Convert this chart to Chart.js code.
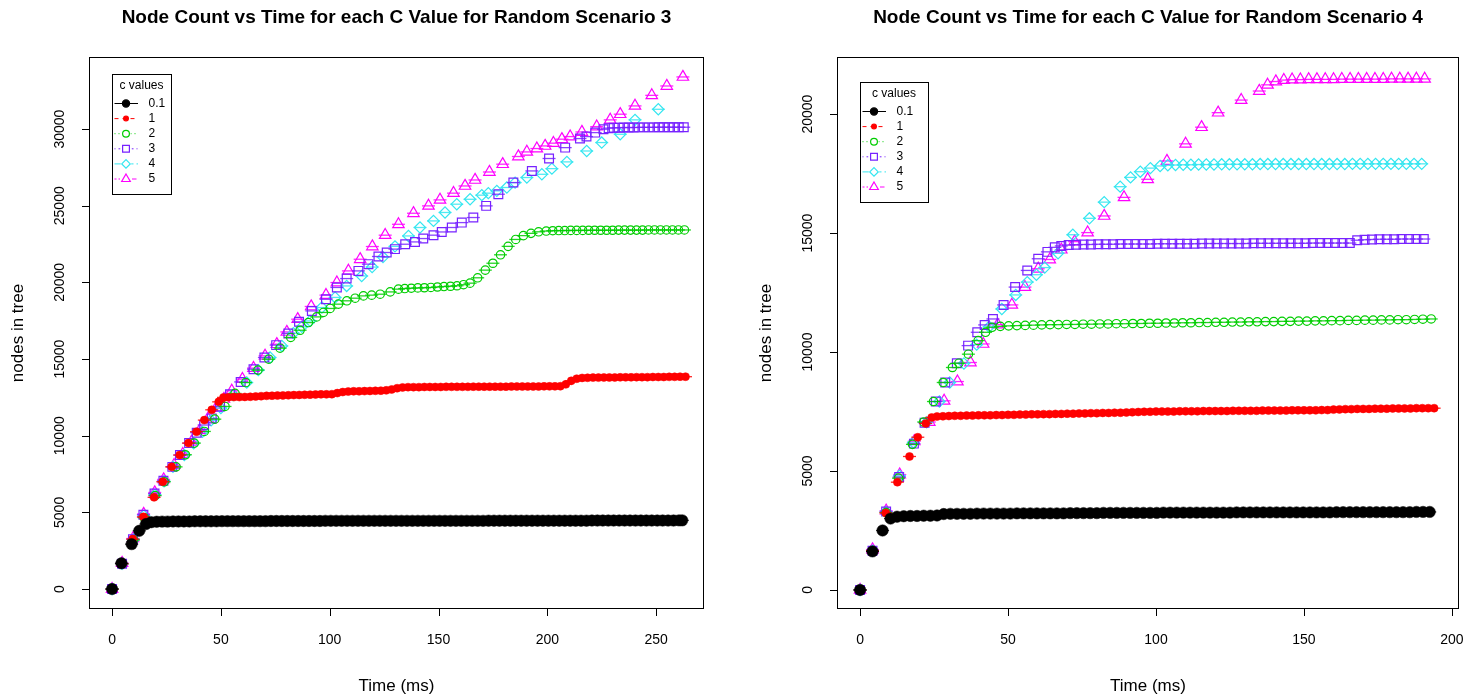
<!DOCTYPE html>
<html>
<head>
<meta charset="utf-8">
<script src="https://cdn.jsdelivr.net/npm/chart.js@4.4.1/dist/chart.umd.min.js"></script>
<style>
  body { margin: 0; background: #fff; }
  canvas { position: absolute; top: 0; }
</style>
</head>
<body>
<canvas id="scenario3" width="741" height="698" style="left:0"></canvas>
<canvas id="scenario4" width="740" height="698" style="left:741px"></canvas>
<script>
// c values shown in the legend
const cLabels = ['0.1', '1', '2', '3', '4', '5'];

const xTicks3 = [0, 50, 100, 150, 200, 250];
const yTicks3 = [0, 5000, 10000, 15000, 20000, 25000, 30000];
const xTicks4 = [0, 50, 100, 150, 200];
const yTicks4 = [0, 5000, 10000, 15000, 20000];

// ---- Random Scenario 3: time (ms) / nodes in tree ----
const s3Time_c01 = [0, 4.3, 9, 12.5, 15.6,
  18, 20.5, 23, 25.5, 28, 30.5, 33, 35.5, 38, 40.5,
  43, 45.5, 48, 50.5, 53, 55.5, 58, 60.5, 63, 65.5,
  68, 70.5, 73, 75.5, 78, 80.5, 83, 85.5, 88, 90.5,
  93, 95.5, 98, 100.5, 103, 105.5, 108, 110.5, 113, 115.5,
  118, 120.5, 123, 125.5, 128, 130.5, 133, 135.5, 138, 140.5,
  143, 145.5, 148, 150.5, 153, 155.5, 158, 160.5, 163, 165.5,
  168, 170.5, 173, 175.5, 178, 180.5, 183, 185.5, 188, 190.5,
  193, 195.5, 198, 200.5, 203, 205.5, 208, 210.5, 213, 215.5,
  218, 220.5, 223, 225.5, 228, 230.5, 233, 235.5, 238, 240.5,
  243, 245.5, 248, 250.5, 253, 255.5, 258, 260.5, 262];
const s3Nodes_c01 = [0, 1680, 2930, 3800, 4240,
  4360, 4390, 4400, 4400, 4410, 4410, 4410, 4410, 4420, 4420,
  4420, 4420, 4420, 4430, 4430, 4430, 4430, 4430, 4430, 4430,
  4430, 4430, 4440, 4440, 4440, 4440, 4440, 4440, 4440, 4440,
  4440, 4440, 4450, 4450, 4450, 4450, 4450, 4450, 4450, 4450,
  4450, 4450, 4450, 4450, 4450, 4450, 4450, 4450, 4450, 4450,
  4450, 4450, 4450, 4450, 4450, 4450, 4450, 4450, 4450, 4450,
  4450, 4450, 4460, 4460, 4460, 4460, 4460, 4460, 4460, 4460,
  4460, 4460, 4460, 4460, 4460, 4460, 4460, 4460, 4460, 4460,
  4460, 4470, 4470, 4470, 4470, 4470, 4470, 4470, 4470, 4470,
  4470, 4470, 4470, 4470, 4470, 4470, 4470, 4480, 4480];

const s3Time_c1 = [0, 4.6, 9.5, 14.4, 19.3, 23.3, 27.4, 31.1, 35.1, 38.8, 42.4, 45.8, 49, 51.2,
  53.5, 56, 58.5, 61, 63.5, 66, 68.5, 71, 73.5, 76,
  78.5, 81, 83.5, 86, 88.5, 91, 93.5, 96, 98.5, 101,
  103.5, 106, 108.5, 111, 113.5, 116, 118.5, 121, 123.5, 126,
  128.5, 131, 133.5, 136, 138.5, 141, 143.5, 146, 148.5, 151,
  153.5, 156, 158.5, 161, 163.5, 166, 168.5, 171, 173.5, 176,
  178.5, 181, 183.5, 186, 188.5, 191, 193.5, 196, 198.5, 201,
  203.5, 206, 208.5, 211, 213.5, 216, 218.5, 221, 223.5, 226,
  228.5, 231, 233.5, 236, 238.5, 241, 243.5, 246, 248.5, 251,
  253.5, 256, 258.5, 261, 263.5];
const s3Nodes_c1 = [0, 1650, 3260, 4710, 5980, 7000, 7970, 8740, 9520, 10260, 11020, 11690, 12210, 12500,
  12510, 12520, 12520, 12530, 12540, 12560, 12580, 12600, 12610, 12620,
  12630, 12640, 12650, 12660, 12670, 12680, 12690, 12700, 12700, 12710,
  12780, 12850, 12880, 12900, 12900, 12910, 12920, 12930, 12940, 12960,
  13020, 13100, 13150, 13170, 13170, 13170, 13180, 13180, 13180, 13180,
  13190, 13190, 13190, 13190, 13190, 13200, 13200, 13200, 13200, 13200,
  13200, 13200, 13210, 13210, 13210, 13210, 13210, 13210, 13220, 13220,
  13220, 13230, 13350, 13580, 13720, 13770, 13780, 13790, 13790, 13800,
  13800, 13800, 13810, 13810, 13810, 13820, 13820, 13820, 13830, 13830,
  13830, 13840, 13840, 13850, 13850];

const s3Time_c2 = [0, 4.6, 9.8, 14.8, 19.8, 24, 29.4, 33.7, 37.8, 42.4,
  47.2, 51.9, 56.5, 61.4, 67, 72, 77.2, 82.1, 86.4, 90.2,
  94, 97.1, 100.2, 104, 107.9, 111.7, 115.5, 119.3, 123.2, 127.8,
  131.6, 134.5, 137.5, 140.5, 143.5, 146.5, 149.5, 152.5, 155.5, 158.5,
  161.5, 164.5, 168, 171.5, 175, 178.5, 182, 185.5, 189, 192.5,
  196, 199.5, 202.5, 205.25, 208, 210.75, 213.5, 216.25, 219, 221.75,
  224.5, 227.25, 230, 232.75, 235.5, 238.25, 241, 243.75, 246.5, 249.25,
  252, 254.75, 257.5, 260.25, 263];
const s3Nodes_c2 = [0, 1650, 3200, 4650, 6100, 7000, 7970, 8760, 9520, 10280,
  11080, 11910, 12760, 13470, 14280, 14990, 15710, 16410, 16880, 17380,
  17750, 18040, 18300, 18580, 18800, 18970, 19120, 19170, 19230, 19380,
  19560, 19600, 19620, 19640, 19650, 19670, 19700, 19730, 19750, 19780,
  19850, 19950, 20300, 20800, 21250, 21800, 22350, 22800, 23050, 23200,
  23300, 23350, 23370, 23380, 23380, 23390, 23390, 23390, 23400, 23400,
  23400, 23400, 23400, 23410, 23410, 23410, 23410, 23410, 23420, 23420,
  23420, 23420, 23420, 23420, 23420];

const s3Time_c3 = [0, 4.6, 9.6, 14.4, 19.5, 23.6, 27.7, 31.2, 35.4, 38.9,
  42.3, 45.8, 49.6, 54.2, 59.1, 65, 70, 75.4, 81, 85.9,
  91.8, 98.3, 103.3, 107.8, 113.2, 117.8, 122.4, 126.2, 130, 134.7,
  139.2, 143, 147.7, 151.5, 156.1, 160.7, 166, 171.9, 177.5, 184.4,
  192.9, 200.8, 208.2, 215, 218, 222, 225.8, 228.2, 230.5, 232.8,
  235.1, 237.4, 239.7, 242, 244.3, 246.6, 248.9, 251.2, 253.5, 255.8,
  258.1, 260.4, 262.7];
const s3Nodes_c3 = [0, 1650, 3250, 4850, 6230, 7060, 7970, 8740, 9520, 10200,
  10700, 11130, 11910, 12710, 13510, 14340, 15100, 15910, 16670, 17430,
  18140, 18900, 19670, 20250, 20750, 21190, 21690, 21950, 22170, 22490,
  22640, 22860, 23080, 23290, 23580, 23900, 24230, 24990, 25750, 26510,
  27270, 28080, 28790, 29380, 29510, 29770, 29990, 30060, 30080, 30090,
  30100, 30100, 30100, 30110, 30110, 30110, 30110, 30120, 30120, 30120,
  30120, 30120, 30120];

const s3Time_c4 = [0, 4.6, 9.8, 14.6, 19.7, 23.9, 28, 33.2, 37.5, 41.5,
  45.5, 50, 55.6, 61.9, 67.2, 72.6, 78, 83.3, 87.2, 91,
  96.4, 102.5, 107.8, 114.7, 119.5, 124.5, 130, 136.2, 141.5, 147.7,
  153, 158.4, 164.5, 169.9, 172.9, 176.8, 181.4, 185.2, 190.6, 197.5,
  202.1, 209, 218.1, 225, 233.5, 240.3, 251];
const s3Nodes_c4 = [0, 1650, 3230, 4780, 6150, 7030, 7970, 8740, 9500, 10250,
  11000, 11800, 12650, 13470, 14280, 15100, 15860, 16690, 17100, 17490,
  18360, 19020, 19770, 20420, 21000, 21650, 22350, 23030, 23580, 24010,
  24560, 25100, 25420, 25690, 25820, 25970, 26190, 26510, 26840, 27050,
  27420, 27860, 28570, 29120, 29660, 30600, 31290];

const s3Time_c5 = [0, 4.6, 9.6, 14.5, 19.6, 23.7, 28.5, 32.5, 36.5, 40.3,
  44, 47.8, 51.4, 55, 59.9, 65, 70.3, 75.7, 80.3, 85.3,
  91.5, 98.3, 103.3, 108.6, 114, 119.6, 125.5, 131.6, 138.5, 145.4,
  150.7, 156.9, 162.2, 166.8, 173.4, 179.5, 186.7, 190.6, 195.2, 199,
  202.8, 206.7, 210.5, 215.9, 222.7, 228.9, 233.5, 240.3, 248, 254.9,
  262.3];
const s3Nodes_c5 = [0, 1700, 3300, 4900, 6300, 7150, 8080, 8800, 9600, 10350,
  11100, 11800, 12400, 12930, 13690, 14410, 15210, 15970, 16770, 17600,
  18430, 19170, 19990, 20750, 21510, 22340, 23080, 23790, 24510, 24990,
  25380, 25820, 26290, 26680, 27200, 27710, 28210, 28510, 28730, 28900,
  29080, 29340, 29510, 29810, 30160, 30600, 30970, 31510, 32200, 32810,
  33400];

// ---- Random Scenario 4: time (ms) / nodes in tree ----
const s4Time_c01 = [0, 4.2, 7.6, 10.3,
  12.5, 14.75, 17, 19.25, 21.5, 23.75, 26, 28.25, 30.5, 32.75,
  35, 37.25, 39.5, 41.75, 44, 46.25, 48.5, 50.75, 53, 55.25,
  57.5, 59.75, 62, 64.25, 66.5, 68.75, 71, 73.25, 75.5, 77.75,
  80, 82.25, 84.5, 86.75, 89, 91.25, 93.5, 95.75, 98, 100.25,
  102.5, 104.75, 107, 109.25, 111.5, 113.75, 116, 118.25, 120.5, 122.75,
  125, 127.25, 129.5, 131.75, 134, 136.25, 138.5, 140.75, 143, 145.25,
  147.5, 149.75, 152, 154.25, 156.5, 158.75, 161, 163.25, 165.5, 167.75,
  170, 172.25, 174.5, 176.75, 179, 181.25, 183.5, 185.75, 188, 190.25,
  192.5];
const s4Nodes_c01 = [0, 1620, 2500, 3000,
  3080, 3100, 3110, 3110, 3120, 3120, 3130, 3190, 3200, 3200,
  3200, 3200, 3210, 3210, 3210, 3210, 3210, 3210, 3220, 3220,
  3220, 3220, 3220, 3220, 3220, 3220, 3230, 3230, 3230, 3230,
  3230, 3240, 3240, 3240, 3240, 3240, 3240, 3240, 3240, 3240,
  3250, 3250, 3250, 3250, 3250, 3250, 3250, 3250, 3250, 3250,
  3250, 3260, 3260, 3260, 3260, 3260, 3260, 3260, 3260, 3260,
  3260, 3260, 3260, 3260, 3260, 3260, 3270, 3270, 3270, 3270,
  3270, 3270, 3270, 3270, 3270, 3270, 3270, 3270, 3280, 3280,
  3280];

const s4Time_c1 = [0, 4.2, 8.7, 12.6, 16.7, 19.5, 22.2, 24.2,
  26, 28, 30, 32, 34, 36, 38, 40, 42, 44,
  46, 48, 50, 52, 54, 56, 58, 60, 62, 64,
  66, 68, 70, 72, 74, 76, 78, 80, 82, 84,
  86, 88, 90, 92, 94, 96, 98, 100, 102, 104,
  106, 108, 110, 112, 114, 116, 118, 120, 122, 124,
  126, 128, 130, 132, 134, 136, 138, 140, 142, 144,
  146, 148, 150, 152, 154, 156, 158, 160, 162, 164,
  166, 168, 170, 172, 174, 176, 178, 180, 182, 184,
  186, 188, 190, 192, 194];
const s4Nodes_c1 = [0, 1650, 3240, 4530, 5610, 6420, 7000, 7250,
  7290, 7300, 7310, 7320, 7320, 7330, 7330, 7340, 7340, 7340,
  7350, 7350, 7360, 7360, 7370, 7370, 7380, 7380, 7390, 7390,
  7400, 7400, 7410, 7410, 7420, 7420, 7430, 7430, 7440, 7440,
  7450, 7450, 7460, 7470, 7480, 7490, 7490, 7500, 7500, 7500,
  7500, 7510, 7510, 7510, 7510, 7520, 7520, 7520, 7520, 7520,
  7530, 7530, 7530, 7530, 7530, 7540, 7540, 7540, 7540, 7540,
  7550, 7550, 7550, 7550, 7550, 7560, 7560, 7580, 7590, 7600,
  7600, 7610, 7610, 7610, 7620, 7620, 7620, 7630, 7630, 7630,
  7630, 7640, 7640, 7640, 7640];

const s4Time_c2 = [0, 4.2, 8.8, 13, 17.7, 21.5, 24.8, 28.1, 31.2, 33.4, 36.6, 39.9, 42.4, 44.6,
  47.4, 50.2, 53, 55.8, 58.6, 61.4, 64.2, 67, 69.8, 72.6,
  75.4, 78.2, 81, 83.8, 86.6, 89.4, 92.2, 95, 97.8, 100.6,
  103.4, 106.2, 109, 111.8, 114.6, 117.4, 120.2, 123, 125.8, 128.6,
  131.4, 134.2, 137, 139.8, 142.6, 145.4, 148.2, 151, 153.8, 156.6,
  159.4, 162.2, 165, 167.8, 170.6, 173.4, 176.2, 179, 181.8, 184.6,
  187.4, 190.2, 193];
const s4Nodes_c2 = [0, 1650, 3250, 4700, 6120, 7060, 7920, 8720, 9350, 9530, 9910, 10480, 10830, 11040,
  11080, 11100, 11110, 11120, 11130, 11140, 11150, 11150, 11160, 11160,
  11170, 11170, 11180, 11180, 11190, 11190, 11200, 11200, 11210, 11210,
  11220, 11220, 11230, 11230, 11240, 11240, 11250, 11250, 11260, 11260,
  11270, 11270, 11280, 11280, 11290, 11290, 11300, 11300, 11310, 11310,
  11320, 11320, 11330, 11330, 11340, 11340, 11350, 11350, 11360, 11360,
  11370, 11380, 11390];

const s4Time_c3 = [0, 4.2, 8.8, 13.2, 18.2, 21.8, 25.6, 28.8, 32.7, 36.5,
  39.6, 42.1, 44.9, 48.5, 52.4, 56.5, 60.2, 63.3, 65.8, 68,
  70.5, 73, 75.5, 78, 80.5, 83, 85.5, 88, 90.5, 93,
  95.5, 98, 100.5, 103, 105.5, 108, 110.5, 113, 115.5, 118,
  120.5, 123, 125.5, 128, 130.5, 133, 135.5, 138, 140.5, 143,
  145.5, 148, 150.5, 153, 155.5, 158, 160.5, 163, 165.5, 168,
  170.5, 173, 175.5, 178, 180.5, 183, 185.5, 188, 190.5];
const s4Nodes_c3 = [0, 1650, 3300, 4750, 6150, 7030, 7920, 8720, 9530, 10270,
  10830, 11140, 11390, 11980, 12730, 13430, 13920, 14210, 14400, 14460,
  14500, 14510, 14520, 14520, 14530, 14530, 14530, 14540, 14540, 14540,
  14540, 14540, 14550, 14550, 14550, 14550, 14550, 14550, 14560, 14560,
  14560, 14560, 14560, 14560, 14560, 14570, 14570, 14570, 14570, 14570,
  14570, 14570, 14570, 14580, 14580, 14580, 14580, 14580, 14580, 14700,
  14720, 14730, 14740, 14740, 14740, 14750, 14750, 14750, 14750];

const s4Time_c4 = [0, 4.2, 8.8, 13.3, 18, 22.5, 26.8, 30.3, 35.1, 39.4,
  43.6, 47.9, 52.6, 56.5, 59.6, 62.4, 66.9, 71.9, 77.5, 82.5,
  87.9, 91.4, 94.7, 98.1, 101.4,
  104, 106.6, 109.2, 111.8, 114.4, 117, 119.6, 122.2, 124.8, 127.4,
  130, 132.6, 135.2, 137.8, 140.4, 143, 145.6, 148.2, 150.8, 153.4,
  156, 158.6, 161.2, 163.8, 166.4, 169, 171.6, 174.2, 176.8, 179.4,
  182, 184.6, 187.2, 189.8];
const s4Nodes_c4 = [0, 1650, 3280, 4800, 6200, 7050, 7920, 8720, 9520, 10310,
  11060, 11810, 12400, 12940, 13250, 13550, 14150, 14930, 15620, 16300,
  16950, 17340, 17580, 17730, 17820,
  17850, 17860, 17870, 17870, 17880, 17880, 17880, 17890, 17890, 17890,
  17890, 17890, 17900, 17900, 17900, 17900, 17900, 17900, 17900, 17900,
  17900, 17900, 17900, 17900, 17910, 17910, 17910, 17910, 17910, 17910,
  17910, 17910, 17910, 17910];

const s4Time_c5 = [0, 4.2, 8.8, 13.4, 18.3, 23.4, 28.4, 32.9, 37.3, 41.6,
  46.5, 51.3, 55.7, 60.2, 64.1, 68, 72.5, 76.9, 82.5, 89.2,
  97.2, 103.7, 110, 115.4, 121, 128.8, 134.9, 137.7, 140.5, 143.2,
  146, 148.8, 151.6, 154.4, 157.2, 160, 162.8, 165.6, 168.4, 171.2,
  174, 176.8, 179.6, 182.4, 185.2, 188, 190.8];
const s4Nodes_c5 = [0, 1700, 3330, 4850, 6250, 7060, 7950, 8760, 9560, 10340,
  11150, 11980, 12730, 13500, 13890, 14300, 14640, 15020, 15720, 16500,
  17260, 18030, 18750, 19450, 20060, 20590, 20970, 21230, 21370, 21430,
  21450, 21450, 21460, 21460, 21460, 21460, 21470, 21470, 21470, 21470,
  21470, 21470, 21480, 21480, 21480, 21480, 21480];

const FONT = '"Liberation Sans", Arial, Helvetica, sans-serif';

// one entry per c value: colour, marker, marker size, legend line dash
const SERIES_STYLE = [
  { color: '#000000', shape: 'circle',   r: 5.7, fill: true,  lr: 3.6, dash: [] },
  { color: '#ff0000', shape: 'circle',   r: 4.0, fill: true,  lr: 2.4, dash: [4, 4] },
  { color: '#00cd00', shape: 'circle',   r: 4.2, fill: false, lr: 3.4, dash: [1, 3] },
  { color: '#7722ff', shape: 'rect',     r: 6.2, fill: false, lr: 4.8, dash: [1, 3, 4, 3] },
  { color: '#33e6f0', shape: 'rectRot',  r: 5.6, fill: false, lr: 4.2, dash: [8, 3] },
  { color: '#ff00ff', shape: 'triangle', r: 6.6, fill: false, lr: 5.0, dash: [2, 2, 6, 2] }
];

function withAlpha(hex, a) {
  const n = parseInt(hex.slice(1), 16);
  return `rgba(${n >> 16},${(n >> 8) & 255},${n & 255},${a})`;
}

// box, ticks, labels, titles and the legend, drawn the way R's base graphics does
const rFrame = {
  id: 'rFrame',
  afterDraw(chart, _args, o) {
    const { ctx, chartArea: a } = chart;
    const xs = chart.scales.x, ys = chart.scales.y;
    ctx.save();
    ctx.strokeStyle = '#000';
    ctx.fillStyle = '#000';
    ctx.lineWidth = 1;
    ctx.setLineDash([]);
    ctx.strokeRect(a.left + 0.5, a.top + 0.5, a.right - a.left - 1, a.bottom - a.top - 1);

    ctx.beginPath();
    o.xTicks.forEach(v => {
      const px = Math.round(xs.getPixelForValue(v)) + 0.5;
      ctx.moveTo(px, a.bottom);
      ctx.lineTo(px, a.bottom + 7);
    });
    o.yTicks.forEach(v => {
      const py = Math.round(ys.getPixelForValue(v)) + 0.5;
      ctx.moveTo(a.left, py);
      ctx.lineTo(a.left - 7, py);
    });
    ctx.stroke();

    ctx.font = '14px ' + FONT;
    ctx.textAlign = 'center';
    ctx.textBaseline = 'middle';
    o.xTicks.forEach(v => ctx.fillText(String(v), xs.getPixelForValue(v), a.bottom + 31));
    o.yTicks.forEach(v => {
      ctx.save();
      ctx.translate(a.left - 29, ys.getPixelForValue(v));
      ctx.rotate(-Math.PI / 2);
      ctx.fillText(String(v), 0, 0);
      ctx.restore();
    });

    const cx = (a.left + a.right) / 2;
    ctx.font = '17px ' + FONT;
    ctx.fillText('Time (ms)', cx, 686);
    ctx.save();
    ctx.translate(a.left - 71, (a.top + a.bottom) / 2);
    ctx.rotate(-Math.PI / 2);
    ctx.fillText('nodes in tree', 0, 0);
    ctx.restore();
    ctx.font = 'bold 19px ' + FONT;
    ctx.fillText(o.title, cx, 18);

    // legend
    const L = o.legend;
    const lx = a.left + L.x, ly = a.top + L.y;
    ctx.strokeRect(Math.round(lx) + 0.5, Math.round(ly) + 0.5, L.w, L.h);
    ctx.font = '12px ' + FONT;
    ctx.fillText('c values', lx + L.w / 2, ly + 11.7);
    ctx.textAlign = 'left';
    SERIES_STYLE.forEach((st, i) => {
      const ry = ly + 29.5 + i * 15.1;
      ctx.strokeStyle = st.color;
      ctx.lineWidth = 1;
      ctx.setLineDash(st.dash);
      ctx.beginPath();
      ctx.moveTo(lx + 2.5, ry);
      ctx.lineTo(lx + 26, ry);
      ctx.stroke();
      ctx.setLineDash([]);
      ctx.fillStyle = '#fff';
      ctx.beginPath();
      ctx.rect(lx + 14 - st.lr - 1, ry - st.lr - 1, 2 * st.lr + 2, 2 * st.lr + 2);
      if (!st.fill) ctx.fill();
      ctx.fillStyle = st.fill ? st.color : 'rgba(0,0,0,0)';
      ctx.lineWidth = 1.2;
      Chart.helpers.drawPoint(ctx, { pointStyle: st.shape, radius: st.lr, borderWidth: 1.2, rotation: 0 }, lx + 14, ry);
      ctx.fillStyle = '#000';
      ctx.fillText(cLabels[i], lx + 36.5, ry);
    });
    ctx.restore();
  }
};

function buildPanel(canvasId, times, nodes, cfg) {
  const datasets = [];
  times.forEach((t, i) => {
    const st = SERIES_STYLE[i];
    const pts = t.map((x, j) => ({ x, y: nodes[i][j] }));
    datasets.push({
      label: cLabels[i],
      data: pts,
      order: i,
      pointStyle: st.shape,
      pointRadius: st.r,
      pointBorderWidth: st.fill ? 0.5 : 1.2,
      pointBorderColor: st.color,
      pointBackgroundColor: st.fill ? st.color : 'rgba(0,0,0,0)'
    });
    // short horizontal bar through each point
    datasets.push({
      label: cLabels[i] + ' bar',
      data: pts,
      order: i,
      pointStyle: 'line',
      pointRadius: 6.5,
      pointBorderWidth: 1.3,
      pointBorderColor: withAlpha(st.color, 0.85)
    });
  });

  return new Chart(document.getElementById(canvasId), {
    type: 'scatter',
    data: { datasets },
    options: {
      responsive: false,
      animation: false,
      devicePixelRatio: 1,
      events: [],
      layout: { padding: cfg.padding },
      scales: {
        x: { type: 'linear', display: false, min: cfg.xMin, max: cfg.xMax },
        y: { type: 'linear', display: false, min: cfg.yMin, max: cfg.yMax }
      },
      plugins: {
        legend: { display: false },
        tooltip: { enabled: false },
        rFrame: { title: cfg.title, xTicks: cfg.xTicks, yTicks: cfg.yTicks, legend: cfg.legend }
      }
    },
    plugins: [rFrame]
  });
}

buildPanel('scenario3',
  [s3Time_c01, s3Time_c1, s3Time_c2, s3Time_c3, s3Time_c4, s3Time_c5],
  [s3Nodes_c01, s3Nodes_c1, s3Nodes_c2, s3Nodes_c3, s3Nodes_c4, s3Nodes_c5],
  {
    title: 'Node Count vs Time for each C Value for Random Scenario 3',
    padding: { left: 89, right: 37, top: 57, bottom: 89 },
    xMin: -10.6, xMax: 272, yMin: -1300, yMax: 34700,
    xTicks: xTicks3, yTicks: yTicks3,
    legend: { x: 23, y: 17, w: 59, h: 120 }
  });

buildPanel('scenario4',
  [s4Time_c01, s4Time_c1, s4Time_c2, s4Time_c3, s4Time_c4, s4Time_c5],
  [s4Nodes_c01, s4Nodes_c1, s4Nodes_c2, s4Nodes_c3, s4Nodes_c4, s4Nodes_c5],
  {
    title: 'Node Count vs Time for each C Value for Random Scenario 4',
    padding: { left: 96, right: 22, top: 57, bottom: 89 },
    xMin: -7.8, xMax: 202.4, yMin: -800, yMax: 22400,
    xTicks: xTicks4, yTicks: yTicks4,
    legend: { x: 23, y: 25, w: 68, h: 120 }
  });
</script>
</body>
</html>
